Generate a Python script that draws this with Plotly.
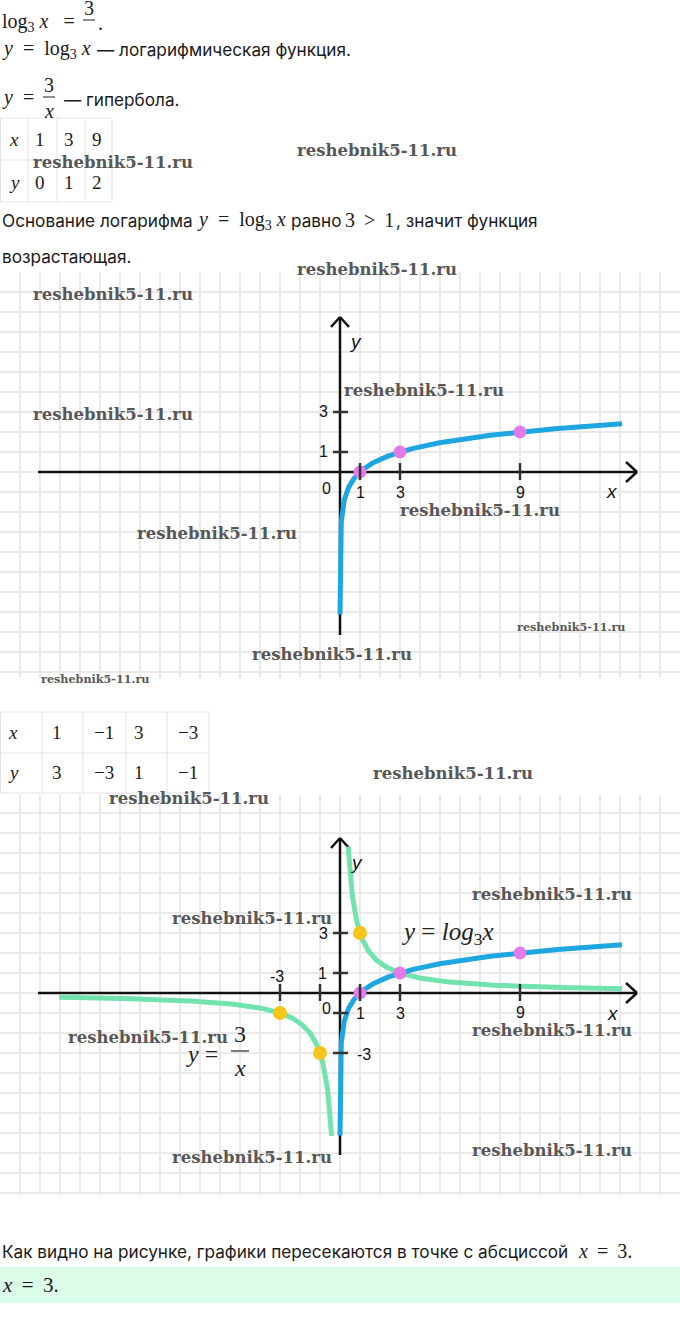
import numpy as np
import plotly.graph_objects as go

W, H = 680, 1337

# ---------------- data ----------------
table1_x = [1, 3, 9]
table1_y = [0, 1, 2]
table2_x = [1, -1, 3, -3]
table2_y = [3, -3, 1, -1]

log_pts_x = [1, 3, 9]
log_pts_y = [0, 1, 2]
hyp_pts_x = [1, -1, -3]
hyp_pts_y = [3, -3, -1]

log_x_span = [0.0004, 14.1]        # visible part of y = log3 x
hyp_right_span = [0.41, 14.1]      # right branch of y = 3/x
hyp_left_span = [-14.05, -0.42]    # left branch of y = 3/x

g1_xticks = [1, 3, 9]
g1_yticks = [1, 3]
g1_xlabels = ["1", "3", "9"]
g1_ylabels = ["1", "3"]
g2_xticks = [-3, -1, 1, 3, 9]
g2_yticks = [-3, -1, 1, 3]

BLUE = "#1ea6e1"
GREEN = "#72e2ae"
VIOLET = "#e27be9"
YELLOW = "#f6c51b"
GRID = "#e9e9e9"

SANS = "Inter, Roboto, sans-serif"
SERIF = "Liberation Serif, DejaVu Serif, serif"
GSANS = "Liberation Sans, Arial, sans-serif"
WM = "DejaVu Serif, serif"
NB = "&nbsp;"
TH = "&#8201;"


def fx(p):
    return p / W


def fy(p):
    return 1 - p / H


def log3(x):
    return np.log(x) / np.log(3)


# ---------------- figure ----------------
fig = go.Figure()

G1_TOP, G1_BOT, G1_AX = 272, 678, 472
G2_TOP, G2_BOT, G2_AX = 795, 1195, 993
UNIT = 20.0

xs_log = np.geomspace(log_x_span[0], log_x_span[1], 500)
xs_hr = np.geomspace(hyp_right_span[0], hyp_right_span[1], 300)
xs_hl = -np.geomspace(-hyp_left_span[1], -hyp_left_span[0], 300)

# graph 1
fig.add_trace(go.Scatter(x=xs_log, y=log3(xs_log), mode="lines",
                         line=dict(color=BLUE, width=5), xaxis="x", yaxis="y",
                         hoverinfo="skip", showlegend=False))
fig.add_trace(go.Scatter(x=log_pts_x, y=log_pts_y, mode="markers",
                         marker=dict(color=VIOLET, size=13), xaxis="x", yaxis="y",
                         showlegend=False))

# graph 2
fig.add_trace(go.Scatter(x=xs_hr, y=3 / xs_hr, mode="lines",
                         line=dict(color=GREEN, width=5), xaxis="x2", yaxis="y2",
                         hoverinfo="skip", showlegend=False))
fig.add_trace(go.Scatter(x=xs_hl, y=3 / xs_hl, mode="lines",
                         line=dict(color=GREEN, width=5), xaxis="x2", yaxis="y2",
                         hoverinfo="skip", showlegend=False))
fig.add_trace(go.Scatter(x=xs_log, y=log3(xs_log), mode="lines",
                         line=dict(color=BLUE, width=5), xaxis="x2", yaxis="y2",
                         hoverinfo="skip", showlegend=False))
fig.add_trace(go.Scatter(x=hyp_pts_x, y=hyp_pts_y, mode="markers",
                         marker=dict(color=YELLOW, size=14), xaxis="x2", yaxis="y2",
                         showlegend=False))
fig.add_trace(go.Scatter(x=log_pts_x, y=log_pts_y, mode="markers",
                         marker=dict(color=VIOLET, size=13), xaxis="x2", yaxis="y2",
                         showlegend=False))

shapes = []
ann = []


def axes_for(xr, yr, ytop, ybot):
    xl, xrgt = (38 - 340) / UNIT, (637 - 340) / UNIT
    shapes.append(dict(type="line", xref=xr, yref=yr, x0=xl, x1=xrgt, y0=0, y1=0,
                       line=dict(color="#111", width=2.5), layer="between"))
    for s in (1, -1):
        shapes.append(dict(type="line", xref=xr, yref=yr, x0=xrgt, y0=0,
                           x1=xrgt - 0.55, y1=0.5 * s,
                           line=dict(color="#111", width=2.5), layer="between"))
    shapes.append(dict(type="line", xref=xr, yref=yr, x0=0, x1=0, y0=ybot, y1=ytop,
                       line=dict(color="#111", width=2.5), layer="between"))
    for s in (1, -1):
        shapes.append(dict(type="line", xref=xr, yref=yr, x0=0, y0=ytop,
                           x1=0.45 * s, y1=ytop - 0.5,
                           line=dict(color="#111", width=2.5), layer="between"))


def ticks_for(xr, yr, xt, yt):
    for t in xt:
        shapes.append(dict(type="line", xref=xr, yref=yr, x0=t, x1=t, y0=-0.4, y1=0.45,
                           line=dict(color="#333", width=2.5)))
    for t in yt:
        shapes.append(dict(type="line", xref=xr, yref=yr, x0=-0.35, x1=0.4, y0=t, y1=t,
                           line=dict(color="#333", width=2.5)))


def glabel(xr, yr, x, y, text, size=16, italic=False):
    t = f"<i>{text}</i>" if italic else text
    ann.append(dict(xref=xr, yref=yr, x=x, y=y, text=t, showarrow=False,
                    font=dict(family=GSANS, size=size, color="#111"),
                    xanchor="center", yanchor="middle"))


axes_for("x", "y", (G1_AX - 317) / UNIT, (G1_AX - 635) / UNIT)
ticks_for("x", "y", g1_xticks, g1_yticks)
axes_for("x2", "y2", (G2_AX - 838) / UNIT, (G2_AX - 1155) / UNIT)
ticks_for("x2", "y2", g2_xticks, g2_yticks)

# graph 1 labels
for t, lab in zip(g1_yticks, g1_ylabels):
    glabel("x", "y", -0.85, t, lab)
for t, lab in zip(g1_xticks, g1_xlabels):
    glabel("x", "y", t, -1.05, lab)
glabel("x", "y", -0.7, -0.85, "0")
glabel("x", "y", 13.6, -1.0, "x", 19, True)
glabel("x", "y", 0.75, 6.5, "y", 19, True)

# graph 2 labels
glabel("x2", "y2", -0.85, 3, "3")
glabel("x2", "y2", -0.9, 1, "1")
glabel("x2", "y2", 1.2, -3.05, "-3")
glabel("x2", "y2", -3.15, 0.85, "-3")
glabel("x2", "y2", -0.7, -0.75, "0")
glabel("x2", "y2", 1, -1.0, "1")
glabel("x2", "y2", 3, -1.0, "3")
glabel("x2", "y2", 9, -0.95, "9")
glabel("x2", "y2", 13.65, -1.0, "x", 19, True)
glabel("x2", "y2", 0.8, 6.55, "y", 19, True)


def ptext(x, y, text, family=SANS, size=17.2, anchor="left", color="#1a1a1a"):
    ann.append(dict(xref="paper", yref="paper", x=fx(x), y=fy(y), text=text,
                    showarrow=False, font=dict(family=family, size=size, color=color),
                    xanchor=anchor, yanchor="middle"))


def pline(x0, y0, x1, y1, color="#1a1a1a", width=1):
    shapes.append(dict(type="line", xref="paper", yref="paper", x0=fx(x0), y0=fy(y0),
                       x1=fx(x1), y1=fy(y1), line=dict(color=color, width=width)))


# graph 2 formula labels
ann.append(dict(xref="paper", yref="paper", x=fx(447), y=fy(933),
                text=f"<i>y</i>{NB}={NB}<i>log</i><sub>3</sub><i>x</i>", showarrow=False,
                font=dict(family=SERIF, size=25, color="#222"),
                xanchor="center", yanchor="middle"))
ptext(184, 1054, f"<i>y</i>{NB}=", SERIF, 24, color="#222")
ptext(240, 1034, "3", SERIF, 24, "center", color="#222")
pline(231, 1051, 249, 1051, "#222", 1.2)
ptext(240, 1068, "<i>x</i>", SERIF, 24, "center", color="#222")

# ---------- page text ----------
MS = 20
SS = 17.2
EQ = f"{NB}={NB}"
LOGX = f"<i>y</i>{NB}{EQ}{NB}log<sub>3</sub>{NB}<i>x</i>"
# line 1
ptext(0, 22, f"log<sub>3</sub>{NB}<i>x</i>{NB}{NB}{EQ}", SERIF, MS)
ptext(89, 8, "3", SERIF, MS, "center")
pline(83, 20, 95, 20)
ptext(96, 23, ".", SERIF, MS)
# line 2
ptext(0, 50, LOGX, SERIF, MS)
ptext(95, 50, "— логарифмическая функция.", SANS, SS)
# line 3
ptext(0, 98, f"<i>y</i>{NB}{EQ}", SERIF, MS)
ptext(49, 85, "3", SERIF, MS, "center")
pline(43, 97, 55, 97)
ptext(49, 111, "<i>x</i>", SERIF, MS, "center")
ptext(62, 99, "— гипербола.", SANS, SS)

# table 1
TC = "#e2e2e2"
for yy in (118, 160, 202):
    pline(0, yy, 112, yy, TC, 1)
for xx in (0.5, 28, 57, 85, 112):
    pline(xx, 118, xx, 202, TC, 1)
ptext(14, 139, "<i>x</i>", SERIF, 19, "center")
ptext(14, 182, "<i>y</i>", SERIF, 19, "center")
for cx, vx, vy in zip((40, 69, 97), table1_x, table1_y):
    ptext(cx, 139, str(vx), SERIF, 19, "center")
    ptext(cx, 182, str(vy), SERIF, 19, "center")

# line 4-5
ptext(0, 220, "Основание логарифма", SANS, SS)
ptext(195, 220, LOGX, SERIF, MS)
ptext(289, 220, "равно", SANS, SS)
ptext(343, 220, f"3{NB}{TH}&gt;{NB}{TH}1", SERIF, MS)
ptext(394, 220, ", значит функция", SANS, SS)
ptext(0, 257, "возрастающая.", SANS, SS)

# table 2
for yy in (712, 753, 793):
    pline(0, yy, 209, yy, TC, 1)
for xx in (0.5, 42, 83, 126, 167, 209):
    pline(xx, 712, xx, 793, TC, 1)
ptext(13, 732, "<i>x</i>", SERIF, 19, "center")
ptext(13, 772, "<i>y</i>", SERIF, 19, "center")
for (cx, anc), vx, vy in zip(((50, "left"), (116, "right"), (132, "left"), (200, "right")),
                             table2_x, table2_y):
    ptext(cx, 732, str(vx).replace("-", "−"), SERIF, 19, anc)
    ptext(cx, 772, str(vy).replace("-", "−"), SERIF, 19, anc)

# bottom text
ptext(0, 1251, "Как видно на рисунке, графики пересекаются в точке с абсциссой", SANS, SS)
ptext(576, 1251, f"<i>x</i>{TH}{EQ}{TH}3.", SERIF, MS)
shapes.append(dict(type="rect", xref="paper", yref="paper", x0=0, x1=1,
                   y0=fy(1303), y1=fy(1267), fillcolor="#dbfce9",
                   line=dict(width=0), layer="below"))
ptext(0, 1285, f"<i>x</i>{TH}{EQ}{TH}3.", SERIF, 21)

# watermarks
WMC = "#575757"
for (cx, cy, s) in [(377, 150, 16.5), (113, 162, 16.5), (377, 269, 16.5), (113, 294, 16.5),
                    (113, 414, 16.5), (424, 390, 16.5), (480, 510, 16.5), (217, 533, 16.5),
                    (571, 627, 11.2), (332, 654, 16.5), (95, 679, 11.2),
                    (453, 773, 16.5), (189, 798, 16.5), (552, 894, 16.5), (252, 918, 16.5),
                    (552, 1030, 16.5), (148, 1037, 16.5), (552, 1150, 16.5), (252, 1157, 16.5)]:
    ann.append(dict(xref="paper", yref="paper", x=fx(cx), y=fy(cy),
                    text="<b>reshebnik5-11.ru</b>", showarrow=False,
                    font=dict(family=WM, size=s, color=WMC),
                    xanchor="center", yanchor="middle"))


def axis_common(rng):
    return dict(range=rng, showgrid=True, gridcolor=GRID, gridwidth=2, dtick=1,
                tick0=0, zeroline=False, showticklabels=False, ticks="",
                showline=False, fixedrange=True)


fig.update_layout(
    width=W, height=H, margin=dict(l=0, r=0, t=0, b=0),
    paper_bgcolor="white", plot_bgcolor="white", showlegend=False,
    xaxis=dict(domain=[0, 1], anchor="y", **axis_common([-17, 17])),
    yaxis=dict(domain=[fy(G1_BOT), fy(G1_TOP)], anchor="x",
               **axis_common([(G1_AX - G1_BOT) / UNIT, (G1_AX - G1_TOP) / UNIT])),
    xaxis2=dict(domain=[0, 1], anchor="y2", **axis_common([-17, 17])),
    yaxis2=dict(domain=[fy(G2_BOT), fy(G2_TOP)], anchor="x2",
                **axis_common([(G2_AX - G2_BOT) / UNIT, (G2_AX - G2_TOP) / UNIT])),
    shapes=shapes, annotations=ann,
)

fig.write_html("out.html", config={"displayModeBar": False},
               post_script="document.body.style.margin='0';document.body.style.padding='0';")
